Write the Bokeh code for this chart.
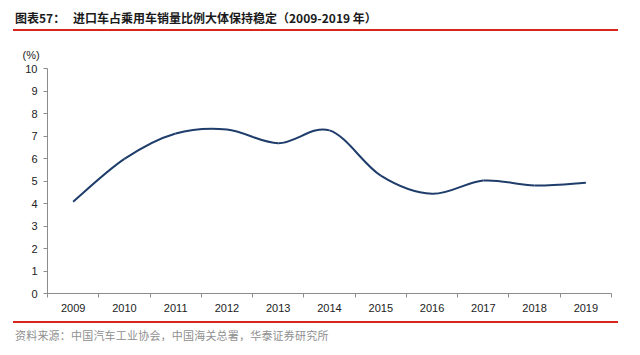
from bokeh.plotting import figure
from bokeh.models import Range1d, FixedTicker, Div
from bokeh.layouts import column
from bokeh.embed import file_html
from bokeh.resources import INLINE

years = [2009, 2010, 2011, 2012, 2013, 2014, 2015, 2016, 2017, 2018, 2019]
share = [4.08, 5.98, 7.11, 7.29, 6.68, 7.25, 5.24, 4.43, 5.02, 4.80, 4.92]
y_ticks = [0, 1, 2, 3, 4, 5, 6, 7, 8, 9, 10]
title_num = "图表57："
title_text = "进口车占乘用车销量比例大体保持稳定（2009-2019 年）"
source_text = "资料来源：中国汽车工业协会，中国海关总署，华泰证券研究所"
unit_text = "(%)"

W = 632
TOP_H = 31
FIG_H = 289
BOT_H = 30
FL, FR = 47, 611
FT, FB = 68 - TOP_H, 293 - TOP_H

RED = "#d9261c"

top = Div(width=W, height=TOP_H, margin=0, text=(
    '<div style="position:relative;width:%dpx;height:%dpx;">'
    '<div style="position:absolute;left:15px;top:11px;line-height:14px;white-space:nowrap;'
    'font-family:\'Noto Sans CJK SC\';font-weight:bold;font-size:12px;color:#1a1a1a;">%s</div>'
    '<div style="position:absolute;left:73px;top:11px;line-height:14px;white-space:nowrap;'
    'font-family:\'Noto Sans CJK SC\';font-weight:bold;font-size:12px;color:#1a1a1a;">%s</div>'
    '<div style="position:absolute;left:13px;top:29px;width:605px;height:1.5px;background:%s;"></div>'
    '</div>') % (W, TOP_H, title_num, title_text, RED))

p = figure(width=W, height=FIG_H, output_backend="svg", toolbar_location=None,
           x_range=Range1d(years[0] - 0.5, years[-1] + 0.5),
           y_range=Range1d(0, 10), margin=0,
           min_border_left=FL, min_border_right=W - FR,
           min_border_top=FT, min_border_bottom=FIG_H - FB)
p.outline_line_color = None
p.grid.visible = False

p.title.text = unit_text
p.title.align = "left"
p.title.offset = -25
p.title.text_font = "Liberation Sans"
p.title.text_font_size = "11px"
p.title.text_font_style = "normal"
p.title.text_color = "#222222"
p.title.standoff = 16

# x axis
xa = p.xaxis[0]
xa.ticker = FixedTicker(ticks=years, minor_ticks=[y - 0.5 for y in years] + [years[-1] + 0.5])
xa.major_label_overrides = {y: str(y) for y in years}
xa.major_tick_out = 0
xa.major_tick_in = 0
xa.minor_tick_out = 4
xa.minor_tick_in = 0
xa.axis_line_color = "#8c8c8c"
xa.minor_tick_line_color = "#8c8c8c"
xa.major_label_text_font = "Liberation Sans"
xa.major_label_text_font_size = "11px"
xa.major_label_text_color = "#222222"
xa.major_label_standoff = 6

# y axis
ya = p.yaxis[0]
ya.ticker = FixedTicker(ticks=y_ticks)
ya.major_tick_out = 4
ya.major_tick_in = 0
ya.minor_tick_out = 0
ya.minor_tick_in = 0
ya.axis_line_color = "#8c8c8c"
ya.major_tick_line_color = "#8c8c8c"
ya.major_label_text_font = "Liberation Sans"
ya.major_label_text_font_size = "11px"
ya.major_label_text_color = "#222222"
ya.major_label_standoff = 6

# smoothed line: bezier control points derived from the data points
n = len(years)
x0, y0, x1, y1, cx0, cy0, cx1, cy1 = [], [], [], [], [], [], [], []
for i in range(n - 1):
    ip = max(i - 1, 0)
    inn = min(i + 2, n - 1)
    x0.append(years[i]); y0.append(share[i])
    x1.append(years[i + 1]); y1.append(share[i + 1])
    cx0.append(years[i] + (years[i + 1] - years[ip]) / 6.0)
    cy0.append(share[i] + (share[i + 1] - share[ip]) / 6.0)
    cx1.append(years[i + 1] - (years[inn] - years[i]) / 6.0)
    cy1.append(share[i + 1] - (share[inn] - share[i]) / 6.0)
p.bezier(x0=x0, y0=y0, x1=x1, y1=y1, cx0=cx0, cy0=cy0, cx1=cx1, cy1=cy1,
         line_color="#1f3d6b", line_width=2)

bottom = Div(width=W, height=BOT_H, margin=0, text=(
    '<div style="position:relative;width:%dpx;height:%dpx;">'
    '<div style="position:absolute;left:13px;top:1px;width:605px;height:1.5px;background:%s;"></div>'
    '<div style="position:absolute;left:15px;top:8px;line-height:14px;white-space:nowrap;letter-spacing:0.2px;'
    'font-family:\'Noto Sans CJK SC\';font-size:11px;color:#8f8f8f;">%s</div>'
    '</div>') % (W, BOT_H, RED, source_text))

layout = column(top, p, bottom, spacing=0, margin=0)

open("out.html", "w").write(file_html(layout, INLINE))
